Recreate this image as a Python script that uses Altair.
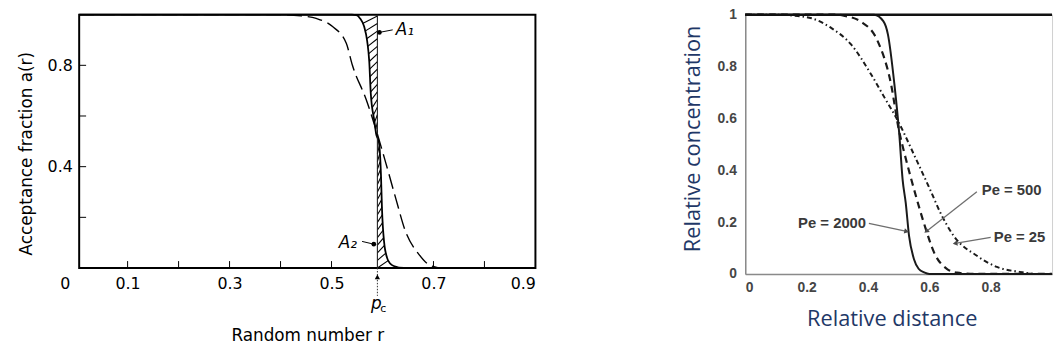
import math

import altair as alt
import numpy as np
import pandas as pd

# ---------------- left panel: acceptance fraction a(r) ----------------
pc = 0.59  # percolation threshold p_c

r_solid = [0.005, 0.54, 0.549, 0.556, 0.564, 0.570, 0.574, 0.577, 0.584, 0.5875,
           0.593, 0.597, 0.599, 0.603, 0.609, 0.615, 0.622, 0.642, 0.9]
a_solid = [1.0, 1.0, 0.998, 0.985, 0.953, 0.895, 0.816, 0.69, 0.58, 0.53,
           0.496, 0.367, 0.234, 0.105, 0.04, 0.018, 0.008, 0.0, 0.0]

r_dash = [0.005, 0.40, 0.44, 0.47, 0.502, 0.529, 0.541, 0.568, 0.587, 0.606,
          0.626, 0.645, 0.671, 0.696, 0.72, 0.9]
a_dash = [1.0, 1.0, 0.995, 0.985, 0.953, 0.887, 0.80, 0.665, 0.548, 0.418,
          0.275, 0.145, 0.055, 0.008, 0.0, 0.0]

left_x_labels = [0.1, 0.3, 0.5, 0.7, 0.9]
left_x_ticks = [0.1, 0.2, 0.3, 0.4, 0.5, 0.7, 0.8]
left_y_labels = [0.4, 0.8]
left_y_ticks = [0.2, 0.4, 0.6, 0.8]

# area labels: text, text position, pointer start, pointer end (dot)
area_names = ["A\u2081", "A\u2082"]
area_text_r = [0.626, 0.532]
area_text_a = [0.9375, 0.10]
area_line_r = [0.620, 0.560]
area_line_a = [0.940, 0.105]
area_dot_r = [0.594, 0.583]
area_dot_a = [0.930, 0.094]

# ---------------- right panel: relative concentration ----------------
dist_2000 = [0.0, 0.42, 0.45, 0.465, 0.486, 0.502, 0.513, 0.523, 0.534, 0.55, 0.565, 0.583, 0.6, 1.0]
conc_2000 = [1.0, 1.0, 0.975, 0.924, 0.733, 0.54, 0.363, 0.275, 0.146, 0.057, 0.02, 0.006, 0.0, 0.0]

dist_500 = [0.0, 0.30, 0.325, 0.377, 0.432, 0.475, 0.50, 0.52, 0.54, 0.56, 0.588, 0.615, 0.658, 0.69, 0.75, 1.0]
conc_500 = [1.0, 1.0, 0.995, 0.973, 0.897, 0.733, 0.56, 0.46, 0.37, 0.285, 0.175, 0.084, 0.019, 0.005, 0.0, 0.0]

dist_25 = [0.0, 0.10, 0.15, 0.216, 0.281, 0.345, 0.41, 0.454, 0.50, 0.55, 0.603, 0.636, 0.68, 0.755, 0.82, 0.894, 0.95, 1.0]
conc_25 = [1.0, 1.0, 0.997, 0.986, 0.948, 0.885, 0.77, 0.68, 0.585, 0.46, 0.324, 0.236, 0.146, 0.07, 0.027, 0.008, 0.0, 0.0]

pe_names = ["Pe = 2000", "Pe = 500", "Pe = 25"]
pe_text_x = [0.394, 0.771, 0.81]
pe_text_y = [0.198, 0.324, 0.141]
pe_from_x = [0.403, 0.755, 0.80]
pe_from_y = [0.195, 0.317, 0.141]
pe_to_x = [0.526, 0.59, 0.684]
pe_to_y = [0.164, 0.164, 0.118]

right_x_labels = [0, 0.2, 0.4, 0.6, 0.8]
right_y_labels = [0, 0.2, 0.4, 0.6, 0.8, 1]

LW, LH = 461, 256
RW, RH = 310, 262
LFONT = "DejaVu Sans"
RFONT = "Liberation Sans"
TFONT = "Open Sans"
NAVY = "#1f3867"

# ======================= left chart =======================
xs_l = alt.Scale(domain=[0.005, 0.9], nice=False, zero=False)
ys_l = alt.Scale(domain=[0, 1], nice=False)
xax_l = alt.Axis(values=left_x_labels, format=".1f", ticks=False, domain=False, grid=False,
                 labelFont=LFONT, labelFontSize=16, labelColor="black", labelPadding=8,
                 title="Random number r", titleFont=LFONT, titleFontSize=17,
                 titleFontWeight="normal", titleColor="black", titlePadding=36)
yax_l = alt.Axis(values=left_y_labels, format=".1f", ticks=False, domain=False, grid=False,
                 labelFont=LFONT, labelFontSize=16, labelColor="black", labelPadding=7,
                 title="Acceptance fraction a(r)", titleFont=LFONT, titleFontSize=17,
                 titleFontWeight="normal", titleColor="black", titlePadding=12, titleY=140)


def LX(f):
    return alt.X(f, type="quantitative", scale=xs_l, axis=xax_l)


def LY(f):
    return alt.Y(f, type="quantitative", scale=ys_l, axis=yax_l)


solid_df = pd.DataFrame({"r": r_solid, "a": a_solid})
dash_df = pd.DataFrame({"r": r_dash, "a": a_dash})

# "/" hatching between the step function and the steep curve
inc_a = list(reversed(a_solid))
inc_r = list(reversed(r_solid))


def r_on_curve(a):
    return float(np.interp(a, inc_a, inc_r))


rise = 0.03
hatch = []
for lvl in np.arange(0.515, 0.99, 0.03):
    hatch.append({"r": r_on_curve(lvl), "a": lvl, "r2": pc, "a2": min(lvl + rise, 1.0)})
for lvl in np.arange(0.0, 0.48, 0.03):
    hatch.append({"r": pc, "a": lvl, "r2": r_on_curve(lvl + rise), "a2": lvl + rise})
hatch_df = pd.DataFrame(hatch)

hatch_layer = alt.Chart(hatch_df).mark_rule(color="black", strokeWidth=1.1).encode(
    x=LX("r"), y=LY("a"), x2="r2", y2="a2")

step_df = pd.DataFrame({"r": [pc], "a": [1.0], "a2": [0.0]})
step_layer = alt.Chart(step_df).mark_rule(color="#222", strokeWidth=1.1).encode(
    x=LX("r"), y=LY("a"), y2="a2")

below_df = pd.DataFrame({"r": [pc], "a": [0.0], "a2": [-0.11]})
below_layer = alt.Chart(below_df).mark_rule(color="#333", strokeWidth=1, strokeDash=[1.5, 1.5]).encode(
    x=LX("r"), y=LY("a"), y2="a2")
head_df = pd.DataFrame({"r": [pc], "a": [-0.035]})
head_layer = alt.Chart(head_df).mark_point(shape="triangle-up", filled=True, color="black",
                                           size=28, opacity=1).encode(x=LX("r"), y=LY("a"))

solid_layer = alt.Chart(solid_df).mark_line(color="black", strokeWidth=1.8, interpolate="monotone").encode(
    x=LX("r"), y=LY("a"))
dash_layer = alt.Chart(dash_df).mark_line(color="black", strokeWidth=1.4, strokeDash=[15, 6],
                                          interpolate="monotone").encode(x=LX("r"), y=LY("a"))

area_df = pd.DataFrame({"name": area_names, "tr": area_text_r, "ta": area_text_a,
                        "lr": area_line_r, "la": area_line_a, "dr": area_dot_r, "da": area_dot_a})
area_line = alt.Chart(area_df).mark_rule(color="black", strokeWidth=1).encode(
    x=LX("lr"), y=LY("la"), x2="dr", y2="da")
area_dot = alt.Chart(area_df).mark_point(shape="circle", filled=True, color="black", size=22,
                                         opacity=1).encode(x=LX("dr"), y=LY("da"))
area_text1 = alt.Chart(area_df.iloc[:1]).mark_text(font=LFONT, fontSize=17, fontStyle="italic",
                                                   align="left", baseline="middle",
                                                   color="black").encode(
    x=LX("tr"), y=LY("ta"), text="name:N")
area_text2 = alt.Chart(area_df.iloc[1:]).mark_text(font=LFONT, fontSize=17, fontStyle="italic",
                                                   align="center", baseline="middle",
                                                   color="black").encode(
    x=LX("tr"), y=LY("ta"), text="name:N")

xt_df = pd.DataFrame({"r": left_x_ticks})
xt_layer = alt.Chart(xt_df).mark_rule(color="black", strokeWidth=1).encode(
    x=LX("r"), y=alt.value(LH), y2=alt.value(LH - 7))
yt_df = pd.DataFrame({"a": left_y_ticks})
yt_layer = alt.Chart(yt_df).mark_rule(color="black", strokeWidth=1).encode(
    y=LY("a"), x=alt.value(0), x2=alt.value(7))

zero_df = pd.DataFrame({"r": [0.005], "a": [0.0], "t": ["0"]})
zero_layer = alt.Chart(zero_df).mark_text(font=LFONT, fontSize=16, dx=-14, dy=16,
                                          color="black").encode(x=LX("r"), y=LY("a"), text="t:N")

pc_df = pd.DataFrame({"r": [pc], "a": [0.0], "p": ["p"], "c": ["c"]})
pc_p = alt.Chart(pc_df).mark_text(font=LFONT, fontSize=17, fontStyle="italic", dx=-1, dy=36,
                                  color="black").encode(x=LX("r"), y=LY("a"), text="p:N")
pc_c = alt.Chart(pc_df).mark_text(font=LFONT, fontSize=11, dx=6, dy=41,
                                  color="black").encode(x=LX("r"), y=LY("a"), text="c:N")

left = alt.layer(
    solid_layer, hatch_layer, step_layer, below_layer, head_layer, dash_layer,
    area_line, area_dot, area_text1, area_text2, xt_layer, yt_layer, zero_layer, pc_p, pc_c,
).properties(width=LW, height=LH, view=alt.ViewBackground(stroke="black", strokeWidth=2))

# ======================= right chart =======================
xs_r = alt.Scale(domain=[0, 1], nice=False)
ys_r = alt.Scale(domain=[0, 1], nice=False)
xax_r = alt.Axis(values=right_x_labels, ticks=False, grid=False, domain=True, domainColor="#8a8a8a",
                 domainWidth=1.5, labelFont=RFONT, labelFontSize=14, labelFontWeight="bold",
                 labelColor="#454545", labelPadding=7,
                 labelExpr="datum.value == 0 ? '0' : format(datum.value, '.1f')",
                 title="Relative distance", titleFont=TFONT, titleFontSize=22,
                 titleFontWeight="normal", titleColor=NAVY, titlePadding=14, titleX=148)
yax_r = alt.Axis(values=right_y_labels, ticks=False, grid=False, domain=True, domainColor="#8a8a8a",
                 domainWidth=1.5, labelFont=RFONT, labelFontSize=14, labelFontWeight="bold",
                 labelColor="#454545", labelPadding=9,
                 labelExpr="datum.value == 0 ? '0' : datum.value == 1 ? '1' : format(datum.value, '.1f')",
                 title="Relative concentration", titleFont=TFONT, titleFontSize=22,
                 titleFontWeight="normal", titleColor=NAVY, titlePadding=13, titleY=125)


def RX(f):
    return alt.X(f, type="quantitative", scale=xs_r, axis=xax_r)


def RY(f):
    return alt.Y(f, type="quantitative", scale=ys_r, axis=yax_r)


def curve(xv, yv):
    return pd.DataFrame({"d": xv, "c": yv})


pe2000 = alt.Chart(curve(dist_2000, conc_2000)).mark_line(
    color="#1a1a1a", strokeWidth=2, interpolate="monotone").encode(x=RX("d"), y=RY("c"))
pe500 = alt.Chart(curve(dist_500, conc_500)).mark_line(
    color="#1a1a1a", strokeWidth=2.2, strokeDash=[7, 5], interpolate="monotone").encode(x=RX("d"), y=RY("c"))
pe25 = alt.Chart(curve(dist_25, conc_25)).mark_line(
    color="#1a1a1a", strokeWidth=2, strokeDash=[5, 3, 1.5, 3], interpolate="monotone").encode(x=RX("d"), y=RY("c"))

top_df = pd.DataFrame({"d": [0.0], "d2": [1.0], "c": [1.0]})
top_rule = alt.Chart(top_df).mark_rule(color="#111", strokeWidth=2.5).encode(
    x=RX("d"), x2="d2", y=RY("c"))

ang = [(math.degrees(math.atan2(-(ty - fy) * RH, (tx - fx) * RW)) + 360) % 360
       for fx, fy, tx, ty in zip(pe_from_x, pe_from_y, pe_to_x, pe_to_y)]
pe_df = pd.DataFrame({"name": pe_names, "tx": pe_text_x, "ty": pe_text_y,
                      "fx": pe_from_x, "fy": pe_from_y, "ex": pe_to_x, "ey": pe_to_y, "ang": ang})
pe_lines = alt.Chart(pe_df).mark_rule(color="#6e6e6e", strokeWidth=1.3).encode(
    x=RX("fx"), y=RY("fy"), x2="ex", y2="ey")
pe_heads = alt.Chart(pe_df).mark_point(shape="triangle-right", filled=True, color="#4a4a4a",
                                       size=30, opacity=1).encode(
    x=RX("ex"), y=RY("ey"), angle=alt.Angle("ang:Q", scale=None))
pe_text_r = alt.Chart(pe_df.iloc[:1]).mark_text(font=RFONT, fontSize=15, fontWeight="bold",
                                                color="#3a3a3a", align="right",
                                                baseline="middle").encode(
    x=RX("tx"), y=RY("ty"), text="name:N")
pe_text_l = alt.Chart(pe_df.iloc[1:]).mark_text(font=RFONT, fontSize=15, fontWeight="bold",
                                                color="#3a3a3a", align="left",
                                                baseline="middle").encode(
    x=RX("tx"), y=RY("ty"), text="name:N")

right = alt.layer(
    pe25, pe500, pe2000, top_rule, pe_lines, pe_heads, pe_text_r, pe_text_l,
).properties(width=RW, height=RH, view=alt.ViewBackground(stroke="#cfcfcf", strokeWidth=1))

chart = alt.hconcat(left, right, spacing=142).properties(
    padding={"left": 16, "top": 5, "right": 0, "bottom": 0},
    background="white",
)

chart.save("out.html", embed_options={"renderer": "svg", "actions": False})
